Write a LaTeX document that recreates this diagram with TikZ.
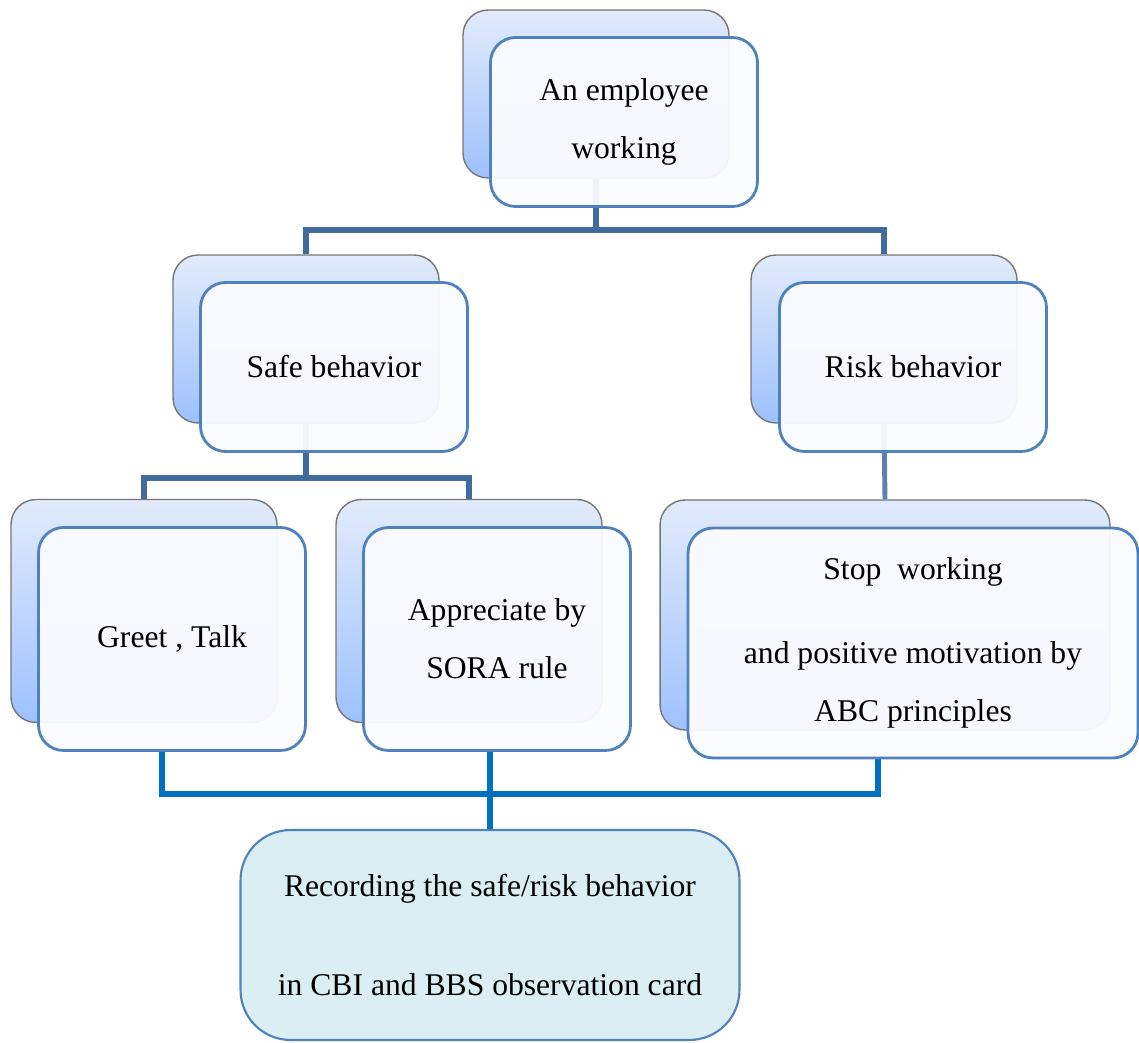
\documentclass[tikz,border=0pt]{standalone}
\usepackage{fontspec}
\setmainfont{Liberation Serif}
\newfontfamily\boxfont{Liberation Serif}
\usetikzlibrary{backgrounds}
\definecolor{backtop}{HTML}{E2EBFB}
\definecolor{backbottom}{HTML}{9DC1FE}
\definecolor{backline}{HTML}{767676}
\definecolor{frontline}{HTML}{4F81BD}
\definecolor{frontfill}{HTML}{FAFBFF}
\definecolor{treeline}{HTML}{3F6B9F}
\definecolor{busline}{HTML}{0070C0}
\definecolor{recfill}{HTML}{DAEEF3}
\tikzset{
  backbox/.style={draw=backline, line width=0.8pt, rounded corners=0.5cm,
                  top color=backtop, bottom color=backbottom,
                  minimum width=5.32cm, minimum height=3.36cm, inner sep=0pt},
  frontbox/.style={draw=frontline, line width=1.6pt, rounded corners=0.5cm,
                   fill=frontfill, fill opacity=0.95, text opacity=1,
                   minimum width=5.34cm, minimum height=3.38cm, inner sep=0pt,
                   align=center, font=\boxfont\fontsize{18}{33}\selectfont},
  tallbox/.style={minimum height=4.46cm},
  widebox/.style={minimum width=9.0cm, minimum height=4.6cm},
  recbox/.style={draw=frontline, line width=1.2pt, rounded corners=1cm,
                 fill=recfill, minimum width=9.98cm, minimum height=4.2cm,
                 inner sep=0pt, align=center,
                 font=\boxfont\fontsize{18}{56}\selectfont},
  treelink/.style={draw=treeline, line width=3.2pt},
  buslink/.style={draw=busline, line width=3.8pt},
}

\begin{document}
\begin{tikzpicture}[x=0.02cm, y=-0.02cm]
  \useasboundingbox (0,0) rectangle (1139,1043);
  % first level
  \node[backbox] (topback) at (596,94) {};
  \node[frontbox] (topfront) at (624,122) {An employee\\working};
  % second level
  \node[backbox] (safeback) at (306,339) {};
  \node[frontbox] (safefront) at (334,367) {Safe behavior};
  \node[backbox] (riskback) at (884,339) {};
  \node[frontbox] (riskfront) at (913,367) {Risk behavior};
  % third level
  \node[backbox, tallbox] (greetback) at (144,611) {};
  \node[frontbox, tallbox] (greetfront) at (172,639) {Greet , Talk};
  \node[backbox, tallbox] (apprback) at (469,611) {};
  \node[frontbox, tallbox] (apprfront) at (497,639) {Appreciate by\\SORA rule};
  \node[backbox, widebox] (stopback) at (885,615) {};
  \node[frontbox, widebox] (stopfront) at (913,643)
    {Stop\ \ working\\[15pt]and positive motivation by\\ABC principles};
  % result
  \node[recbox] (recording) at (490,935)
    {Recording the safe/risk behavior\\in CBI and BBS observation card};

  \coordinate (bus1) at (597,230);
  \coordinate (bus2) at (305,478);
  \coordinate (bus3) at (490,794);

  \begin{pgfonlayer}{background}
    \draw[treelink] (topback.south) -- (topback.south |- bus1)
      -| (safeback.north);
    \draw[treelink] (topback.south |- bus1) -| (riskback.north);
    \draw[treelink] (safeback.south) -- (safeback.south |- bus2)
      -| (greetback.north);
    \draw[treelink] (safeback.south |- bus2) -| (apprback.north);
    \draw[treelink, line width=2.8pt, draw=treeline!85!white]
      (riskback.south) -- (stopback.north);
    \draw[buslink] ([xshift=-0.2cm]greetfront.south) |- (bus3)
      -| ([xshift=-0.7cm]stopfront.south);
    \draw[buslink] (recording.north) -- (recording.north |- apprfront.south);
  \end{pgfonlayer}
\end{tikzpicture}
\end{document}
